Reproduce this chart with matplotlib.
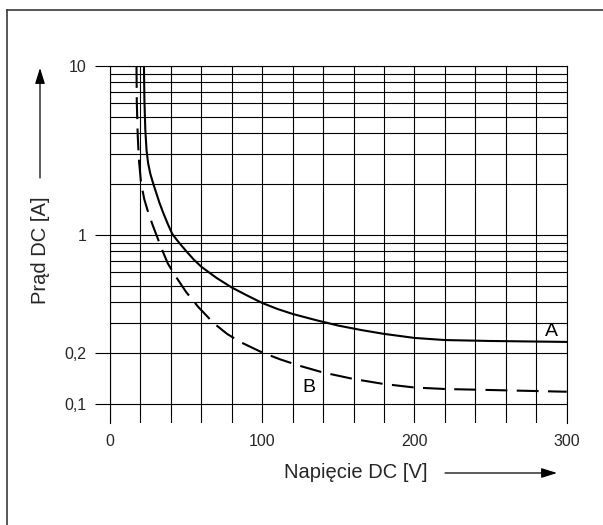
import matplotlib
matplotlib.use('Agg')
import matplotlib.pyplot as plt
from matplotlib.lines import Line2D
from matplotlib.patches import FancyArrowPatch
from matplotlib.ticker import NullFormatter, FixedLocator

plt.rcParams['font.family'] = ['Liberation Sans', 'DejaVu Sans']

# Krzywa A (linia ciągła)
napiecie_a = [22.3, 22.6, 23.2, 24.0, 25.0, 26.5, 28.5, 30.5, 32.5, 35, 38, 41, 45, 50, 55,
              60, 70, 80, 90, 100, 110, 120, 135, 150, 165, 180, 200, 220, 250, 300]
prad_a = [10, 6.29, 4.18, 3.18, 2.67, 2.30, 2.00, 1.76, 1.55, 1.35, 1.16, 1.01, 0.909, 0.804, 0.716,
          0.649, 0.557, 0.489, 0.439, 0.396, 0.365, 0.341, 0.314, 0.291, 0.274, 0.260, 0.246, 0.239,
          0.236, 0.233]

# Krzywa B (linia przerywana)
napiecie_b = [17.4, 17.6, 18.2, 19.0, 20.4, 22.5, 25, 28, 31, 34, 38, 43, 50, 58,
              68, 77, 86, 100, 112, 125, 140, 160, 180, 200, 220, 250, 300]
prad_b = [10, 6.12, 3.91, 2.78, 2.03, 1.63, 1.37, 1.146, 0.973, 0.826, 0.678, 0.572, 0.460, 0.375,
          0.3015, 0.2596, 0.2318, 0.2017, 0.1834, 0.1679, 0.1536, 0.1406, 0.1313, 0.1252, 0.1227,
          0.1210, 0.1182]

x_ticks = list(range(0, 301, 20))
y_ticks = [0.1, 0.2, 1, 10]
y_labels = ['0,1', '0,2', '1', '10']
y_minor = [0.3, 0.4, 0.5, 0.6, 0.7, 0.8, 0.9, 2, 3, 4, 5, 6, 7, 8, 9]

txt = '#262626'

fig = plt.figure(figsize=(6.03, 5.25), dpi=100)
ax = fig.add_axes([110 / 603, 1 - 423 / 525, (566.7 - 110) / 603, (423 - 66) / 525])

ax.plot(napiecie_a, prad_a, color='black', lw=1.5, solid_joinstyle='round')
ax.plot(napiecie_b, prad_b, color='black', lw=1.5, dashes=(10.5, 4.5))

ax.set_yscale('log')
ax.set_xlim(0, 300)
ax.set_ylim(0.0772, 10)

ax.set_xticks(x_ticks)
ax.set_xticklabels([str(v) if v % 100 == 0 else '' for v in x_ticks])
ax.tick_params(axis='x', length=0, pad=8, labelsize=11.5, labelcolor=txt)

ax.yaxis.set_major_locator(FixedLocator(y_ticks))
ax.set_yticklabels(y_labels)
ax.yaxis.set_minor_locator(FixedLocator(y_minor))
ax.yaxis.set_minor_formatter(NullFormatter())
ax.tick_params(axis='y', which='major', length=11, width=0.8, pad=6,
               labelsize=11.5, labelcolor=txt)
ax.tick_params(axis='y', which='minor', length=0)

ax.grid(True, which='both', axis='y', color='black', lw=0.8)
ax.grid(True, which='major', axis='x', color='black', lw=0.8)

for s in ['left', 'right', 'top']:
    ax.spines[s].set_linewidth(0.8)
ax.spines['bottom'].set_visible(False)

ax.text(551.5 / 603, 1 - 332 / 525, 'A', transform=fig.transFigure,
        ha='center', va='center', fontsize=14, color='black')
ax.text(309 / 603, 1 - 388 / 525, 'B', transform=fig.transFigure,
        ha='center', va='center', fontsize=14, color='black')

# Opisy osi ze strzałkami
fig.text(40 / 603, 1 - 250 / 525, 'Prąd DC [A]', rotation=90, ha='center', va='center',
         fontsize=14.5, color=txt)
fig.text(356 / 603, 1 - 473 / 525, 'Napięcie DC [V]', ha='center', va='center',
         fontsize=14.5, color=txt)

for start, end in [((40 / 603, 1 - 178 / 525), (40 / 603, 1 - 68 / 525)),
                   ((445 / 603, 1 - 473 / 525), (557 / 603, 1 - 473 / 525))]:
    fig.patches.append(FancyArrowPatch(start, end, transform=fig.transFigure,
                                       arrowstyle='-|>,head_length=0.95,head_width=0.3',
                                       mutation_scale=10, color='black', lw=0.9,
                                       shrinkA=0, shrinkB=0))

# Ramka (lewa i górna krawędź)
fig.add_artist(Line2D([7 / 603, 7 / 603], [0, 1 - 10 / 525], transform=fig.transFigure,
                      color='#3a3a3a', lw=1.2))
fig.add_artist(Line2D([7 / 603, 1], [1 - 10 / 525, 1 - 10 / 525], transform=fig.transFigure,
                      color='#3a3a3a', lw=1.2))

fig.savefig('out.png', dpi=100)
